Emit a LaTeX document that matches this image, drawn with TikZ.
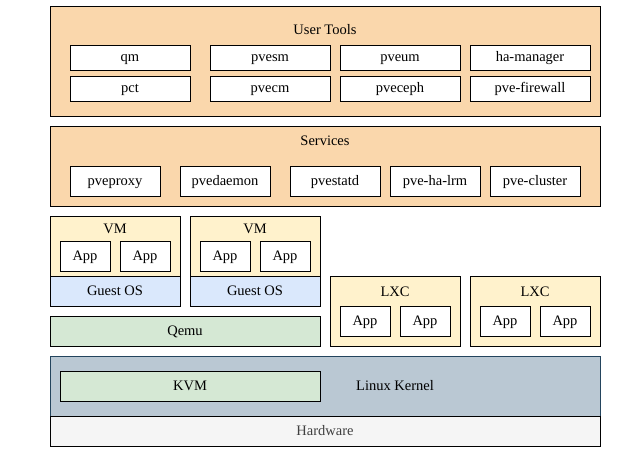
\documentclass[tikz,border=0pt]{standalone}
\usepackage{fontspec}
\setmainfont{Liberation Serif}
\usetikzlibrary{positioning}

\definecolor{toolfill}{HTML}{FAD7AC}
\definecolor{vmfill}{HTML}{FFF2CC}
\definecolor{osfill}{HTML}{DAE8FC}
\definecolor{qemufill}{HTML}{D5E8D4}
\definecolor{kernfill}{HTML}{BAC8D3}
\definecolor{kerndraw}{HTML}{23445D}
\definecolor{hwfill}{HTML}{F5F5F5}

\begin{document}
\begin{tikzpicture}[x=1pt,y=-1pt,
	font=\fontsize{14.5}{16}\selectfont,
	every node/.style={text height=0.8em,text depth=0pt},
	box/.style={draw,line width=0.8pt,inner sep=0pt,minimum width=#1},
	tool/.style={box=120pt,fill=white,minimum height=25pt},
	srv/.style={box=90pt,fill=white,minimum height=30pt},
	app/.style={box=50pt,fill=white,minimum height=30pt}]

\useasboundingbox (0,0) rectangle (640,466);

% user tools
\node[box=550pt,fill=toolfill,minimum height=110pt] (tools) at (325,61) {};
\node (toolstitle) at (325,30) {User Tools};
\foreach \x/\a/\b in {130/qm/pct,270/pvesm/pvecm,400/pveum/pveceph,530/ha-manager/pve-firewall}{
	\node[tool] (tool-\a) at (\x,57.5) {\a};
	\node[tool] (tool-\b) at (\x,88.5) {\b};
}

% services
\node[box=550pt,fill=toolfill,minimum height=80pt] (services) at (325,166) {};
\node (srvtitle) at (325,141) {Services};
\foreach \x/\s in {115/pveproxy,225/pvedaemon,335/pvestatd,435/pve-ha-lrm,535/pve-cluster}
	\node[srv] (srv-\s) at (\x,181) {\s};

% virtual machines
\foreach \x/\n in {115/1,255/2}{
	\node[box=130pt,fill=vmfill,minimum height=60pt] (vm\n) at (\x,246) {};
	\node (vmtitle\n) at (\x,229) {VM};
	\node[app] (vm\n-app1) at ({\x-30},256) {App};
	\node[app] (vm\n-app2) at ({\x+30},256) {App};
	\node[box=130pt,fill=osfill,minimum height=30pt] (guest\n) at (\x,291) {Guest OS};
}
\node[box=270pt,fill=qemufill,minimum height=30pt] (qemu) at (185,331) {Qemu};

% containers
\foreach \x/\n in {395/1,535/2}{
	\node[box=130pt,fill=vmfill,minimum height=70pt] (lxc\n) at (\x,311) {};
	\node (lxctitle\n) at (\x,292) {LXC};
	\node[app] (lxc\n-app1) at ({\x-30},321) {App};
	\node[app] (lxc\n-app2) at ({\x+30},321) {App};
}

% kernel and hardware
\node[box=550pt,fill=kernfill,draw=kerndraw,minimum height=60pt] (kernel) at (325,386) {};
\node[box=260pt,fill=qemufill,minimum height=30pt] (kvm) at (190,386) {KVM};
\node (kerneltitle) at (395,386) {Linux Kernel};
\node[box=550pt,fill=hwfill,minimum height=30pt,text=black!75] (hardware) at (325,431) {Hardware};

\end{tikzpicture}
\end{document}
